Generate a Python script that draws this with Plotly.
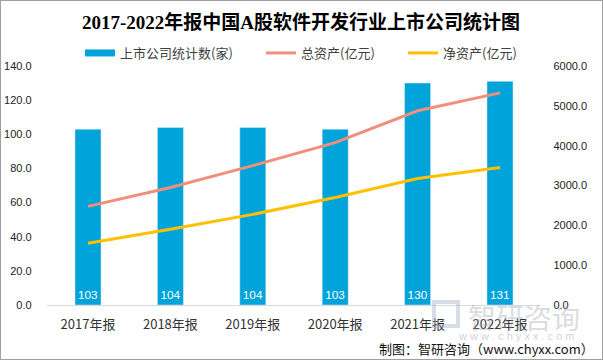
import plotly.graph_objects as go

years = ["2017年报", "2018年报", "2019年报", "2020年报", "2021年报", "2022年报"]
companies = [103, 104, 104, 103, 130, 131]
total_assets = [2475, 2950, 3500, 4075, 4875, 5325]
net_assets = [1550, 1900, 2275, 2700, 3175, 3450]

cjk = "Noto Sans CJK SC"
W, H = 603, 360
BLUE, SALMON, YELLOW = "#00A3DA", "#F0907A", "#FFC000"

fig = go.Figure()
fig.add_trace(go.Bar(
    x=years, y=companies, name="上市公司统计数(家)", showlegend=False,
    marker_color=BLUE, width=0.316,
    text=[str(v) for v in companies], textposition="inside",
    insidetextanchor="start", textangle=0,
    textfont=dict(color="white", size=12, family="Liberation Sans"),
))
# legend entry for bars (drawn as a thick swatch)
fig.add_trace(go.Scatter(
    x=[years[0]], y=[None], name="上市公司统计数(家)", mode="lines",
    line=dict(color=BLUE, width=7), legend="legend",
))
fig.add_trace(go.Scatter(
    x=years, y=total_assets, name="总资产(亿元)", yaxis="y2",
    mode="lines", line=dict(color=SALMON, width=3), legend="legend2",
))
fig.add_trace(go.Scatter(
    x=years, y=net_assets, name="净资产(亿元)", yaxis="y2",
    mode="lines", line=dict(color=YELLOW, width=3), legend="legend3",
))

def leg(x_px):
    return dict(x=x_px / W, xanchor="left", y=1 - 53 / H, yanchor="middle",
                orientation="h", bgcolor="rgba(0,0,0,0)", borderwidth=0,
                font=dict(family=cjk, size=13, color="#404040"))

tickfont = dict(family="Liberation Sans", size=11, color="#222")
fig.update_layout(
    width=W, height=H,
    margin=dict(l=0, r=0, t=0, b=0, autoexpand=False),
    paper_bgcolor="white", plot_bgcolor="white",
    title=dict(text="<b>2017-2022年报中国A股软件开发行业上市公司统计图</b>",
               x=301 / W, xanchor="center", y=1 - 22 / H, yanchor="middle",
               font=dict(family="Liberation Serif, Noto Sans CJK SC", size=19, color="#000")),
    legend=leg(80), legend2=leg(261), legend3=leg(403),
    xaxis=dict(domain=[46.8 / W, 541.2 / W], automargin=False,
               showgrid=False, showline=True, linecolor="#D9D9D9", linewidth=1,
               ticks="outside", ticklen=7, tickcolor="rgba(0,0,0,0)",
               tickfont=dict(family=cjk, size=13, color="#333")),
    yaxis=dict(domain=[55 / H, 294 / H], automargin=False,
               range=[0, 140], dtick=20, tickformat=".1f", showgrid=False,
               zeroline=False, showline=False,
               ticks="outside", ticklen=12, tickcolor="rgba(0,0,0,0)",
               tickfont=tickfont),
    yaxis2=dict(range=[0, 6000], dtick=1000, tickformat=".1f", overlaying="y",
                side="right", showgrid=False, zeroline=False, showline=False,
                automargin=False,
                ticks="outside", ticklen=9, tickcolor="rgba(0,0,0,0)",
                tickfont=tickfont),
)

# watermark
fig.add_annotation(xref="paper", yref="paper", x=524 / W, y=1 - 317 / H, xanchor="center",
                   yanchor="middle", text="智研咨询", showarrow=False,
                   font=dict(family=cjk, size=28, color="rgba(160,165,175,0.4)"))
fig.add_annotation(xref="paper", yref="paper", x=516 / W, y=1 - 336 / H, xanchor="center",
                   yanchor="middle", text="w w w . c h y x x . c o m", showarrow=False,
                   font=dict(family="Liberation Sans", size=11, color="rgba(160,165,175,0.5)"))
fig.add_shape(type="rect", xref="paper", yref="paper",
              x0=434 / W, x1=458 / W, y0=1 - 326 / H, y1=1 - 302 / H,
              line=dict(color="rgba(160,170,190,0.4)", width=4), fillcolor="rgba(0,0,0,0)")
# source
fig.add_annotation(xref="paper", yref="paper", x=596 / W, y=1 - 348 / H, xanchor="right",
                   yanchor="middle", text="制图：智研咨询（www.chyxx.com）", showarrow=False,
                   font=dict(family=cjk, size=13, color="#111"))
# border
fig.add_shape(type="rect", xref="paper", yref="paper", x0=0, y0=0, x1=1, y1=1,
              line=dict(color="#A0A0A0", width=2))

fig.write_html("out.html", config={"displayModeBar": False},
               post_script="document.body.style.margin='0';document.body.style.overflow='hidden';")
